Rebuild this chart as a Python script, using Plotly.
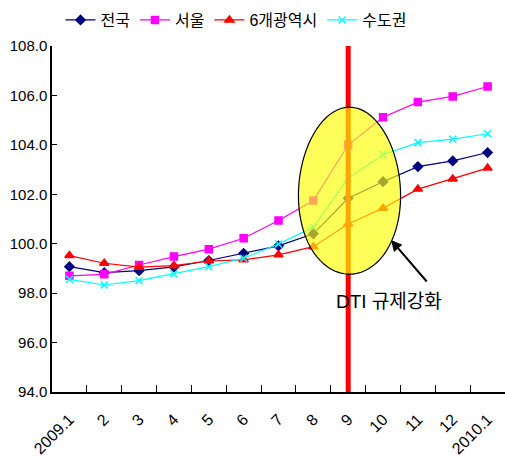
import numpy as np
import plotly.graph_objects as go

months = ["2009.1", "2", "3", "4", "5", "6", "7", "8", "9", "10", "11", "12", "2010.1"]
nation = [99.07, 98.83, 98.91, 99.06, 99.32, 99.61, 99.91, 100.40, 101.84, 102.51, 103.12, 103.35, 103.69]
seoul = [98.70, 98.76, 99.14, 99.48, 99.78, 100.22, 100.94, 101.75, 104.00, 105.12, 105.73, 105.96, 106.36]
metro6 = [99.52, 99.21, 99.05, 99.11, 99.30, 99.35, 99.55, 99.88, 100.80, 101.44, 102.21, 102.62, 103.06]
capital = [98.56, 98.33, 98.51, 98.78, 99.07, 99.41, 99.99, 100.67, 102.65, 103.60, 104.09, 104.23, 104.45]

series_names = ["전국", "서울", "6개광역시", "수도권"]
series_vals = [nation, seoul, metro6, capital]
colors = ["#000080", "#FF00FF", "#FF0000", "#00FFFF"]
symbols = ["diamond", "square", "triangle-up", "x-thin"]
sizes = [7, 7, 8, 7]
event_month = "9"

FONT = "Liberation Sans, Noto Sans CJK KR, sans-serif"

fig = go.Figure()
for name, vals, c, s, sz in zip(series_names, series_vals, colors, symbols, sizes):
    fig.add_trace(go.Scatter(
        x=months, y=vals, name=name, mode="lines+markers",
        line=dict(color=c, width=1.2),
        marker=dict(color=c, symbol=s, size=sz, line=dict(color=c, width=1.5)),
    ))

W, H = 505, 464
ml, mr, mt, mb = 52, 0, 46, 72
pw, ph = W - ml - mr, H - mt - mb

def to_paper(px, py):
    return (px - ml) / pw, (H - mb - py) / ph

# egg-shaped highlight around the DTI event (paper coords)
t = np.linspace(0, 2 * np.pi, 80)
cx, cy, a, b, e = 349.5, 190.7, 51.0, 83.5, 0.06
pxs = cx + a * np.cos(t) * (1 + e * np.sin(t))
pys = cy + b * np.sin(t)
pts = [to_paper(x, y) for x, y in zip(pxs, pys)]
path = "M " + " L ".join(f"{x:.4f},{y:.4f}" for x, y in pts) + " Z"

ev = months.index(event_month)
fig.add_shape(type="line", xref="x", yref="y", x0=ev, x1=ev, y0=94, y1=108,
              line=dict(color="#FF0000", width=5), layer="above")
fig.add_shape(type="path", xref="paper", yref="paper", path=path,
              fillcolor="rgba(255,255,0,0.65)", line=dict(color="black", width=1.2),
              layer="above")

hx, hy = to_paper(391, 240)
fig.add_annotation(xref="paper", yref="paper", x=hx, y=hy, ax=37, ay=43,
                   text="", showarrow=True, arrowhead=2, arrowsize=1.1,
                   arrowwidth=2, arrowcolor="black")
tx, ty = to_paper(444, 314)
fig.add_annotation(xref="paper", yref="paper", x=tx, y=ty, text="DTI 규제강화",
                   showarrow=False, font=dict(family=FONT, size=19, color="black"))

lx, _ = to_paper(236, 0)
fig.update_layout(
    width=W, height=H, margin=dict(l=ml, r=mr, t=mt, b=mb),
    paper_bgcolor="white", plot_bgcolor="white",
    font=dict(family=FONT, size=15, color="black"),
    showlegend=True,
    legend=dict(orientation="h", x=lx, y=1.075, xanchor="center", yanchor="middle",
                font=dict(family=FONT, size=16, color="black"),
                bgcolor="rgba(0,0,0,0)", tracegroupgap=0, itemwidth=30),
    xaxis=dict(type="category", range=[-0.5, 12.5], showgrid=False, zeroline=False,
               showline=True, linecolor="black", linewidth=1.5,
               ticks="inside", ticklen=7, tickcolor="black", tickson="boundaries",
               tickangle=-45, tickfont=dict(size=16), ticklabelstandoff=10),
    yaxis=dict(range=[94, 108], dtick=2, tickformat=".1f", showgrid=False, zeroline=False,
               showline=True, linecolor="black", linewidth=1.5,
               ticks="inside", ticklen=5, tickcolor="black", tickfont=dict(size=15)),
)

fig.write_html("out.html")
